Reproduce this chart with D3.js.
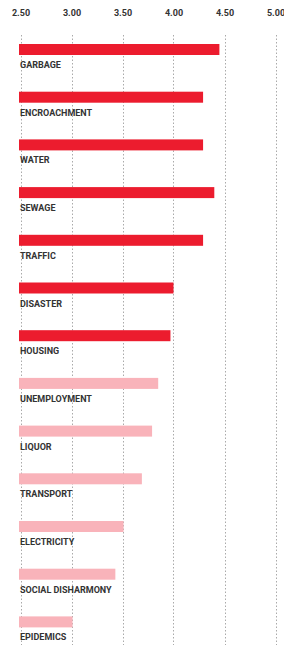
<!DOCTYPE html>
<html>
<head>
<meta charset="utf-8">
<script src="https://cdnjs.cloudflare.com/ajax/libs/d3/7.8.5/d3.min.js"></script>
<style>
  body { margin: 0; background: #fff; }
  svg text { font-family: Roboto, "Open Sans", sans-serif; font-weight: bold; fill: #333; }
</style>
</head>
<body>
<div id="root"></div>
<script>
// data
const categories = ['GARBAGE', 'ENCROACHMENT', 'WATER', 'SEWAGE', 'TRAFFIC', 'DISASTER', 'HOUSING',
  'UNEMPLOYMENT', 'LIQUOR', 'TRANSPORT', 'ELECTRICITY', 'SOCIAL DISHARMONY', 'EPIDEMICS'];
const scores = [4.45, 4.29, 4.29, 4.40, 4.29, 4.00, 3.97, 3.85, 3.79, 3.69, 3.51, 3.43, 3.01];
const topCount = 7; // first seven drawn in strong red
const ticks = [2.5, 3.0, 3.5, 4.0, 4.5, 5.0];

const w = 284, h = 645;

const svg = d3.select('#root')
  .append('svg')
  .attr('width', w)
  .attr('height', h);

const x = d3.scaleLinear()
  .domain([2.5, 5.0])
  .range([20.5, 275.5]);

const y = d3.scaleBand()
  .domain(categories)
  .range([44, 44 + 47.7 * categories.length])
  .paddingInner(0);

// grid
svg.append('g')
  .selectAll('line')
  .data(ticks)
  .enter()
  .append('line')
  .attr('x1', d => Math.round(x(d)) + 0.5)
  .attr('x2', d => Math.round(x(d)) + 0.5)
  .attr('y1', 35)
  .attr('y2', h)
  .attr('stroke', '#aaa')
  .attr('stroke-width', 1)
  .attr('stroke-dasharray', '1.5,2');

// top axis labels
const xAxis = d3.axisTop(x).tickValues(ticks).tickFormat(d3.format('.2f')).tickSize(0);
const ax = svg.append('g')
  .attr('transform', 'translate(0,12)')
  .call(xAxis);
ax.select('.domain').remove();
ax.selectAll('text')
  .attr('dy', '0.75em')
  .attr('font-size', 9)
  .style('font-family', 'Roboto, sans-serif')
  .style('font-weight', 'bold')
  .style('fill', '#333');

// bars
svg.selectAll('rect.bar')
  .data(scores)
  .enter()
  .append('rect')
  .attr('class', 'bar')
  .attr('x', 19)
  .attr('y', (d, i) => y(categories[i]))
  .attr('width', d => x(d) - 19)
  .attr('height', 11)
  .attr('fill', (d, i) => i < topCount ? '#ec1c2e' : '#f9b3ba');

// labels
svg.selectAll('text.label')
  .data(categories)
  .enter()
  .append('text')
  .attr('class', 'label')
  .attr('x', 20)
  .attr('y', d => y(d) + 24)
  .attr('font-size', 9)
  .text(d => d);
</script>
</body>
</html>
